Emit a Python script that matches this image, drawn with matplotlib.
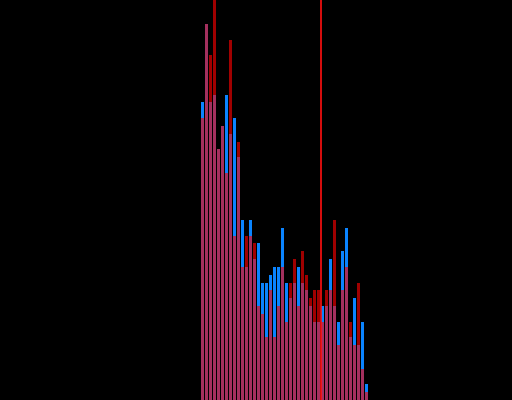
import numpy as np
import matplotlib
matplotlib.use("Agg")
import matplotlib.pyplot as plt

# counts per bin
blue_counts = [38, 48, 38, 39, 32, 35, 39, 34, 36, 31, 23, 17, 23, 18, 20, 15, 15, 16, 17, 17, 22,
               15, 13, 15, 17, 15, 14, 12, 10, 10, 12, 12, 18, 12, 10, 19, 22, 8, 13, 7, 10, 2]
red_counts = [36, 48, 44, 53, 32, 35, 29, 46, 21, 33, 17, 21, 21, 20, 12, 11, 8, 14, 8, 12, 17,
              10, 15, 18, 12, 19, 16, 13, 14, 14, 10, 14, 14, 23, 7, 14, 17, 10, 7, 15, 4, 1]
marker_pos = 29.5

x = np.arange(len(blue_counts))

fig = plt.figure(figsize=(5.12, 4.0), dpi=100, facecolor="black")
ax = fig.add_axes([0, 0, 1, 1])
ax.set_facecolor("black")

ax.bar(x, blue_counts, width=0.8, color="#0a84ff")
ax.bar(x, red_counts, width=0.8, color="#ff0000", alpha=0.63)
ax.axvline(marker_pos, color="#ff1010", linewidth=1.2)

ax.set_xlim(-50.625, 77.375)
ax.set_ylim(0, 51.08)
ax.axis("off")

fig.savefig("out.png", dpi=100, facecolor="black")
